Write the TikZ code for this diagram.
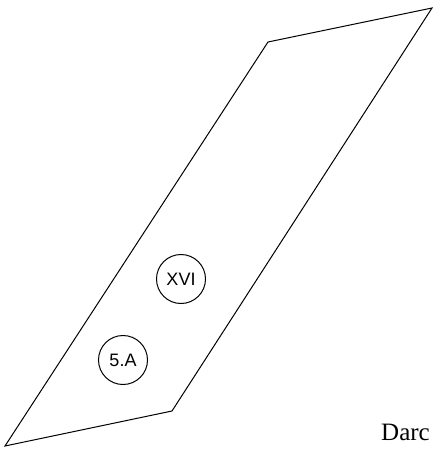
\documentclass[tikz,border=0pt]{standalone}
\usepackage{fontspec}
\setmainfont{Liberation Serif}
\newfontfamily\labelfont{Liberation Sans}
\begin{document}
\begin{tikzpicture}[x=1pt,y=-1pt,
  plane/.style={draw=black,line width=1pt,line join=miter},
  tag/.style={circle,draw=black,line width=1pt,minimum size=49pt,inner sep=0pt,font=\labelfont\fontsize{18}{18}\selectfont},
  captext/.style={anchor=base west,inner sep=0pt,font=\fontsize{25}{25}\selectfont}]
\useasboundingbox (0,0) rectangle (435,455);
\coordinate (tl) at (268,42);
\coordinate (tr) at (432,8);
\coordinate (br) at (172,411);
\coordinate (bl) at (5,446);
\draw[plane] (tl) -- (tr) -- (br) -- (bl) -- cycle;
\node[tag] (xvi) at (181,279) {XVI};
\node[tag] (fivea) at (123,360) {5.A};
\node[captext] (darc) at (381,440) {Darc};
\end{tikzpicture}
\end{document}
